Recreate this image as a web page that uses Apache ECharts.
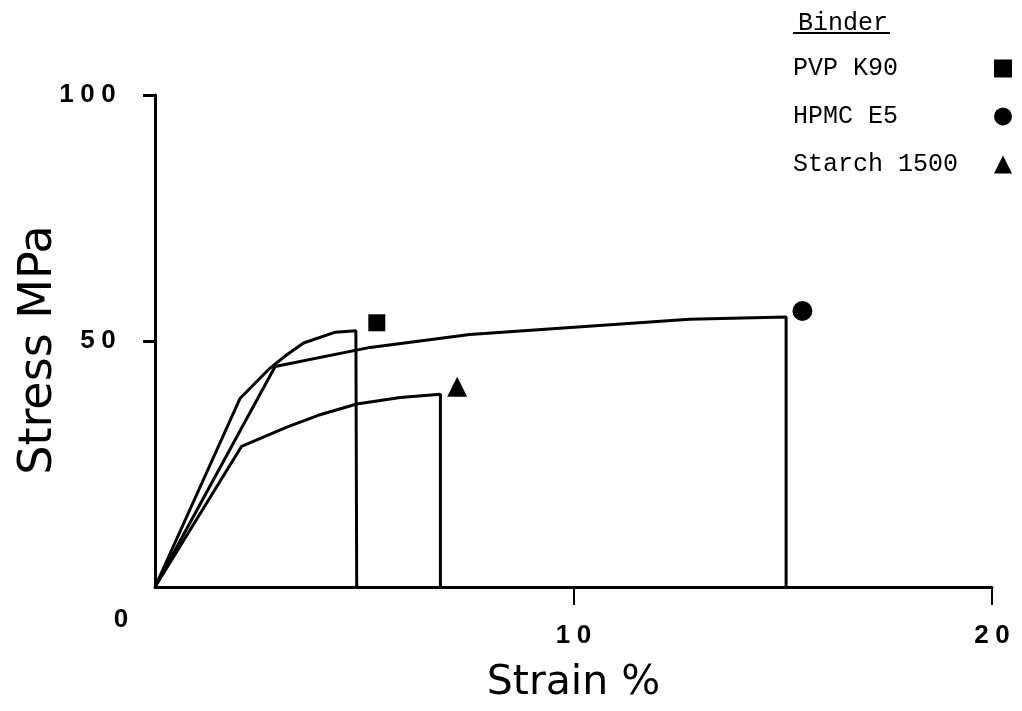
<!DOCTYPE html>
<html>
<head>
<meta charset="utf-8">
<script src="https://cdn.jsdelivr.net/npm/echarts@6/dist/echarts.min.js"></script>
<style>
html,body{margin:0;padding:0;background:#fff;}
#chart{width:1022px;height:711px;}
</style>
</head>
<body>
<div id="chart"></div>
<script>
// ---- data ----
const binders = ['PVP K90', 'HPMC E5', 'Starch 1500'];
const binderSymbols = ['rect', 'circle', 'triangle'];

const pvpStrain = [0, 2.03, 2.75, 3.15, 3.55, 4.31, 4.80, 4.82, 4.82];
const pvpStress = [0, 38.3, 44.5, 47.2, 49.6, 51.8, 52.1, 52.2, 0];

const hpmcStrain = [0, 2.87, 5.14, 7.52, 12.77, 15.08, 15.08];
const hpmcStress = [0, 44.8, 48.7, 51.3, 54.4, 54.9, 0];

const starchStrain = [0, 2.07, 3.15, 3.9, 4.82, 5.86, 6.82, 6.82];
const starchStress = [0, 28.6, 32.5, 34.9, 37.2, 38.5, 39.2, 0];

const markerStrain = [5.30, 15.47, 7.22];
const markerStress = [53.7, 56.1, 40.7];

const xTicks = [10, 20];
const yTicks = [50, 100];
const originLabel = '0';

// ---- chart ----
const pairs = (xs, ys) => xs.map((x, i) => [x, ys[i]]);
const curves = [pairs(pvpStrain, pvpStress), pairs(hpmcStrain, hpmcStress), pairs(starchStrain, starchStress)];
const markerSizes = [17, 20, 20];

const digitFormatter = v => String(v).split('').map(c => '{d|' + c + '}').join('');
const digitRich = { d: { width: 21, align: 'center', fontSize: 26, fontWeight: 'bold', fontFamily: 'Liberation Sans', color: '#000' } };

const series = [];
binders.forEach((name, i) => {
  series.push({
    name: name, type: 'line', data: curves[i], showSymbol: false, symbol: 'none',
    lineStyle: { color: '#000', width: 3 }, itemStyle: { color: '#000' }, z: 3
  });
  series.push({
    name: name, type: 'scatter', data: [[markerStrain[i], markerStress[i]]],
    symbol: binderSymbols[i], symbolSize: markerSizes[i], itemStyle: { color: '#000', opacity: 1 }, z: 4
  });
});

const chart = echarts.init(document.getElementById('chart'), null, { renderer: 'canvas' });
chart.setOption({
  animation: false,
  backgroundColor: '#fff',
  grid: { left: 155, right: 30, top: 95, bottom: 124, containLabel: false, outerBoundsMode: 'none' },
  title: {
    text: 'Binder', left: 793, top: 6,
    textStyle: { fontFamily: 'Liberation Mono', fontSize: 25, fontWeight: 'normal', color: '#000' }
  },
  legend: {
    orient: 'vertical', left: 793, top: 56, itemGap: 23, align: 'right', padding: 0,
    itemWidth: 18, itemHeight: 18, itemStyle: { color: '#000', opacity: 1 },
    data: binders.map((n, i) => ({ name: n, icon: binderSymbols[i] })),
    formatter: n => '{t|' + n + '}',
    textStyle: {
      fontFamily: 'Liberation Mono', fontSize: 25, color: '#000',
      rich: { t: { width: 196, align: 'left', fontFamily: 'Liberation Mono', fontSize: 25, color: '#000' } }
    }
  },
  xAxis: {
    type: 'value', min: 0, max: 20, interval: 10,
    name: 'Strain %', nameLocation: 'middle', nameGap: 76, nameMoveOverlap: false,
    nameTextStyle: { fontFamily: 'DejaVu Sans', fontSize: 41, color: '#000' },
    axisLine: { lineStyle: { color: '#000', width: 3 } },
    axisTick: { show: true, length: 18, customValues: xTicks, lineStyle: { color: '#000', width: 2 } },
    axisLabel: { customValues: xTicks, margin: 36, formatter: digitFormatter, rich: digitRich },
    splitLine: { show: false }
  },
  yAxis: {
    type: 'value', min: 0, max: 100, interval: 50,
    name: 'Stress MPa', nameLocation: 'middle', nameGap: 93, nameRotate: 90, nameMoveOverlap: false,
    nameTextStyle: { fontFamily: 'DejaVu Sans', fontSize: 46, color: '#000', padding: [0, 18, 0, 0] },
    axisLine: { lineStyle: { color: '#000', width: 3 } },
    axisTick: { show: true, length: 12, customValues: yTicks, lineStyle: { color: '#000', width: 3 } },
    axisLabel: { customValues: yTicks, margin: 36, formatter: digitFormatter, rich: digitRich },
    splitLine: { show: false }
  },
  graphic: [
    { type: 'line', shape: { x1: 793, y1: 33, x2: 890, y2: 33 }, style: { stroke: '#000', lineWidth: 2 } },
    { type: 'text', x: 121, y: 620, style: { text: originLabel, fontFamily: 'Liberation Sans', fontSize: 26, fontWeight: 'bold', fill: '#000', align: 'center', verticalAlign: 'middle' } }
  ],
  series: series
});
</script>
</body>
</html>
